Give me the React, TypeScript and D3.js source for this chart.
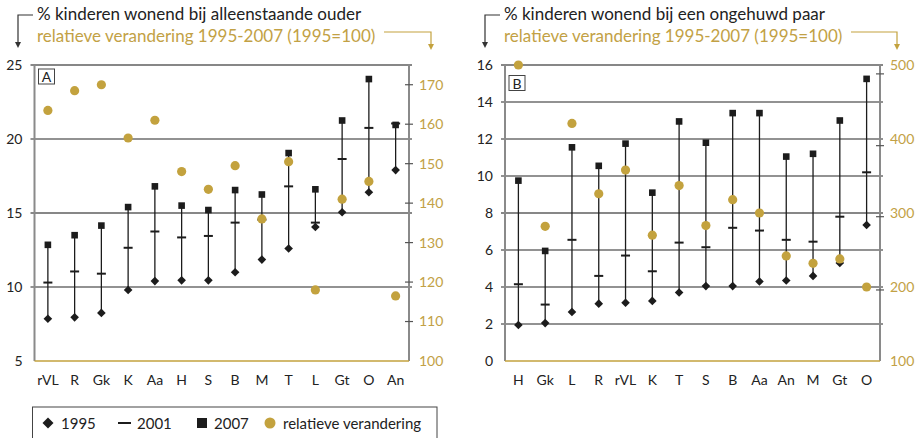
import React from "react";
import * as d3 from "d3";

// ---------- data ----------
const catsA = ["rVL", "R", "Gk", "K", "Aa", "H", "S", "B", "M", "T", "L", "Gt", "O", "An"];
const a1995 = [7.85, 7.95, 8.25, 9.8, 10.4, 10.45, 10.45, 11.0, 11.85, 12.6, 14.05, 15.05, 16.4, 17.9];
const a2001 = [10.3, 11.05, 10.9, 12.65, 13.75, 13.35, 13.45, 14.35, 14.55, 16.8, 14.35, 18.65, 20.75, 21.05];
const a2007 = [12.85, 13.5, 14.15, 15.4, 16.8, 15.5, 15.2, 16.55, 16.25, 19.05, 16.6, 21.25, 24.05, 20.95];
const aRel = [163.5, 168.5, 170, 156.5, 161, 148, 143.5, 149.5, 136, 150.5, 118, 141, 145.5, 116.5];

const catsB = ["H", "Gk", "L", "R", "rVL", "K", "T", "S", "B", "Aa", "An", "M", "Gt", "O"];
const b1995 = [1.95, 2.05, 2.65, 3.1, 3.15, 3.25, 3.7, 4.05, 4.05, 4.3, 4.35, 4.6, 5.3, 7.35];
const b2001 = [4.15, 3.05, 6.55, 4.6, 5.7, 4.85, 6.4, 6.15, 7.2, 7.05, 6.55, 6.45, 7.8, 10.2];
const b2007 = [9.75, 5.95, 11.55, 10.55, 11.75, 9.1, 12.95, 11.8, 13.4, 13.4, 11.05, 11.2, 13.0, 15.25];
const bRel = [500, 282, 421, 326, 358, 270, 337, 283, 318, 300, 242, 232, 238, 200];

const leftTicksA = [5, 10, 15, 20, 25];
const rightTicksA = [100, 110, 120, 130, 140, 150, 160, 170];
const leftTicksB = [0, 2, 4, 6, 8, 10, 12, 14, 16];
const rightLabelsB = [100, 200, 300, 400, 500];
const rightTickMarksB = [196, 295, 391, 488];

const titleLeftA = "% kinderen wonend bij alleenstaande ouder";
const titleLeftB = "% kinderen wonend bij een ongehuwd paar";
const titleRight = "relatieve verandering 1995-2007 (1995=100)";
const legendItems = ["1995", "2001", "2007", "relatieve verandering"];

const GOLD = "#c3a23e";
const GOLD_TEXT = "#c2a145";
const INK = "#1c1c1c";
const AXIS = "#8a8a8a";
const FONT = "Lato, 'Liberation Sans', sans-serif";

const TOP = 65;
const BOT = 361;

type PanelProps = {
  x0: number;
  x1: number;
  cats: string[];
  v1995: number[];
  v2001: number[];
  v2007: number[];
  rel: number[];
  leftDomain: [number, number];
  rightDomain: [number, number];
  leftTicks: number[];
  rightLabels: number[];
  rightTickMarks: number[];
  label: string;
  labelY: number;
  titleLeft: string;
  titleX: number;
  goldStart: number;
  goldEnd: number;
  darkGrid: number[];
};

function diamond(cx: number, cy: number, r: number) {
  return `M${cx},${cy - r}L${cx + r},${cy}L${cx},${cy + r}L${cx - r},${cy}Z`;
}

function Panel(p: PanelProps) {
  const x = d3.scaleBand<string>().domain(p.cats).range([p.x0, p.x1]);
  const y = d3.scaleLinear().domain(p.leftDomain).range([BOT, TOP]);
  const yr = d3.scaleLinear().domain(p.rightDomain).range([BOT, TOP]);
  const cx = (c: string) => (x(c) as number) + x.bandwidth() / 2;
  const ax = p.titleX - 19;

  return (
    <g>
      {/* titles + arrows */}
      <text x={p.titleX} y={19.5} fontSize={17} fill="#222" fontFamily={FONT}>
        {p.titleLeft}
      </text>
      <text x={p.titleX} y={41.5} fontSize={17} fill={GOLD_TEXT} fontFamily={FONT}>
        {titleRight}
      </text>
      <path d={`M${p.titleX - 4},15H${ax}V44`} fill="none" stroke="#333" strokeWidth={1.2} />
      <path d={`M${ax - 3},42L${ax + 3},42L${ax},48Z`} fill="#333" />
      <path
        d={`M${p.goldStart},32H${p.goldEnd}V46`}
        fill="none"
        stroke={GOLD}
        strokeWidth={1.2}
      />
      <path d={`M${p.goldEnd - 3},44L${p.goldEnd + 3},44L${p.goldEnd},50Z`} fill={GOLD} />

      {/* gridlines */}
      {p.leftTicks
        .filter((t) => t !== p.leftDomain[0])
        .map((t) => (
          <line
            key={"g" + t}
            x1={p.x0 - 4}
            x2={p.x1 + 3}
            y1={y(t)}
            y2={y(t)}
            stroke={p.darkGrid.includes(t) ? "#111" : "#6e6e6e"}
            strokeWidth={p.darkGrid.includes(t) ? 1.2 : 1.6}
          />
        ))}
      {/* left axis labels */}
      {p.leftTicks.map((t) => (
        <text
          key={"l" + t}
          x={p.x0 - 12}
          y={y(t)}
          dy="0.35em"
          textAnchor="end"
          fontSize={14}
          fill="#222"
          fontFamily={FONT}
        >
          {t}
        </text>
      ))}
      {/* right axis */}
      <line x1={p.x1} x2={p.x1} y1={TOP - 1} y2={BOT} stroke={AXIS} strokeWidth={2} />
      {p.rightTickMarks.map((t) => (
        <line
          key={"rt" + t}
          x1={p.x1 - 4}
          x2={p.x1 + 4}
          y1={yr(t)}
          y2={yr(t)}
          stroke="#555"
          strokeWidth={1.2}
        />
      ))}
      {p.rightLabels.map((t) => (
        <text
          key={"r" + t}
          x={p.x1 + 10}
          y={yr(t)}
          dy="0.35em"
          fontSize={14}
          fill={GOLD_TEXT}
          fontFamily={FONT}
        >
          {t}
        </text>
      ))}
      {/* left axis + baseline */}
      <line x1={p.x0} x2={p.x0} y1={TOP} y2={BOT} stroke={AXIS} strokeWidth={2} />
      <line x1={p.x0} x2={p.x1} y1={BOT} y2={BOT} stroke={GOLD} strokeWidth={1.5} />

      {/* panel label */}
      <rect
        x={p.x0 + 4}
        y={p.labelY}
        width={16}
        height={15}
        fill="white"
        stroke="#444"
        strokeWidth={1}
      />
      <text
        x={p.x0 + 12}
        y={p.labelY + 13}
        textAnchor="middle"
        fontSize={14}
        fill="#222"
        fontFamily={FONT}
      >
        {p.label}
      </text>

      {/* category labels */}
      {p.cats.map((c) => (
        <text
          key={"c" + c}
          x={cx(c)}
          y={385}
          textAnchor="middle"
          fontSize={14}
          fill="#222"
          fontFamily={FONT}
        >
          {c}
        </text>
      ))}

      {/* data */}
      {p.cats.map((c, i) => (
        <line
          key={"v" + c}
          x1={cx(c)}
          x2={cx(c)}
          y1={y(p.v1995[i])}
          y2={y(p.v2007[i])}
          stroke={INK}
          strokeWidth={1.3}
        />
      ))}
      {p.cats.map((c, i) => (
        <line
          key={"d1" + c}
          x1={cx(c) - 4.5}
          x2={cx(c) + 4.5}
          y1={y(p.v2001[i])}
          y2={y(p.v2001[i])}
          stroke={INK}
          strokeWidth={2}
        />
      ))}
      {p.cats.map((c, i) => (
        <path key={"dm" + c} d={diamond(cx(c), y(p.v1995[i]), 4.3)} fill={INK} />
      ))}
      {p.cats.map((c, i) => (
        <rect
          key={"sq" + c}
          x={cx(c) - 3.3}
          y={y(p.v2007[i]) - 3.3}
          width={6.6}
          height={6.6}
          fill={INK}
        />
      ))}
      {p.cats.map((c, i) => (
        <circle key={"ci" + c} cx={cx(c)} cy={yr(p.rel[i])} r={4.6} fill={GOLD} />
      ))}
    </g>
  );
}

export default function App() {
  return (
    <svg
      width={918}
      height={438}
      style={{ position: "absolute", left: 0, top: 0, background: "white" }}
    >
      <rect width={918} height={438} fill="white" />
      <Panel
        x0={34.5}
        x1={409}
        cats={catsA}
        v1995={a1995}
        v2001={a2001}
        v2007={a2007}
        rel={aRel}
        leftDomain={[5, 25]}
        rightDomain={[100, 175]}
        leftTicks={leftTicksA}
        rightLabels={rightTicksA}
        rightTickMarks={rightTicksA.filter((t) => t > 100)}
        label="A"
        labelY={69}
        titleLeft={titleLeftA}
        titleX={37}
        goldStart={384}
        goldEnd={431}
        darkGrid={[25, 15]}
      />
      <Panel
        x0={505}
        x1={880}
        cats={catsB}
        v1995={b1995}
        v2001={b2001}
        v2007={b2007}
        rel={bRel}
        leftDomain={[0, 16]}
        rightDomain={[100, 500]}
        leftTicks={leftTicksB}
        rightLabels={rightLabelsB}
        rightTickMarks={rightTickMarksB}
        label="B"
        labelY={75.5}
        titleLeft={titleLeftB}
        titleX={504}
        goldStart={851}
        goldEnd={897}
        darkGrid={[16, 8]}
      />

      {/* legend */}
      <rect x={32.5} y={407} width={404.5} height={40} fill="white" stroke="#444" strokeWidth={1} />
      <path d={diamond(48, 423, 5.5)} fill={INK} />
      <text x={61} y={428.5} fontSize={15} fill="#222" fontFamily={FONT}>
        {legendItems[0]}
      </text>
      <line x1={118} x2={131} y1={423} y2={423} stroke={INK} strokeWidth={2} />
      <text x={137} y={428.5} fontSize={15} fill="#222" fontFamily={FONT}>
        {legendItems[1]}
      </text>
      <rect x={197} y={418} width={10} height={10} fill={INK} />
      <text x={214} y={428.5} fontSize={15} fill="#222" fontFamily={FONT}>
        {legendItems[2]}
      </text>
      <circle cx={270} cy={423} r={5.5} fill={GOLD} />
      <text x={283} y={428.5} fontSize={15} fill="#222" fontFamily={FONT}>
        {legendItems[3]}
      </text>
    </svg>
  );
}
